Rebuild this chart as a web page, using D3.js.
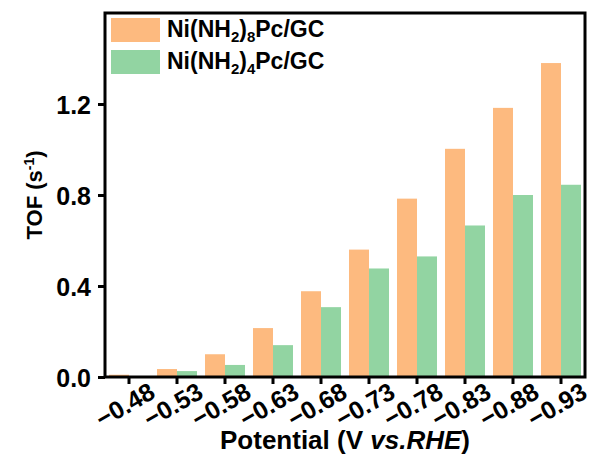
<!DOCTYPE html>
<html>
<head>
<meta charset="utf-8">
<script src="https://cdn.jsdelivr.net/npm/d3@7"></script>
<style>
  body { margin: 0; background: #fff; }
  text { font-family: "Liberation Sans", Arial, sans-serif; font-weight: bold; fill: #000; }
</style>
</head>
<body>
<svg id="chart" width="603" height="456"></svg>
<script>
const potentials = ["-0.48", "-0.53", "-0.58", "-0.63", "-0.68", "-0.73", "-0.78", "-0.83", "-0.88", "-0.93"];
const tofNH2_8 = [0.01, 0.035, 0.10, 0.215, 0.377, 0.56, 0.784, 1.003, 1.183, 1.38];
const tofNH2_4 = [0.0, 0.026, 0.053, 0.14, 0.307, 0.477, 0.53, 0.666, 0.80, 0.845];
const seriesNames = ["NH2_8", "NH2_4"];
const yTicks = [0, 0.4, 0.8, 1.2];

const colors = { NH2_8: "#fdba7f", NH2_4: "#92d4a2" };

const plotLeft = 105, plotRight = 585, plotTop = 13, plotBottom = 377;

const svg = d3.select("#chart");

const x0 = d3.scaleBand()
    .domain(potentials)
    .range([plotLeft, plotRight])
    .padding(0);

const x1 = d3.scaleBand()
    .domain(seriesNames)
    .range([4, x0.bandwidth() - 4])
    .padding(0);

const y = d3.scaleLinear()
    .domain([0, 1.6])
    .range([plotBottom, plotTop]);

const rows = potentials.map((p, i) => ({ p: p, NH2_8: tofNH2_8[i], NH2_4: tofNH2_4[i] }));

// bars
const groups = svg.append("g")
    .selectAll("g")
    .data(rows)
    .join("g")
    .attr("transform", d => `translate(${x0(d.p)},0)`);

groups.selectAll("rect")
    .data(d => seriesNames.map(k => ({ key: k, value: d[k] })))
    .join("rect")
    .attr("x", d => x1(d.key))
    .attr("width", x1.bandwidth())
    .attr("y", d => y(d.value))
    .attr("height", d => plotBottom - y(d.value))
    .attr("fill", d => colors[d.key]);

// frame
svg.append("rect")
    .attr("x", plotLeft)
    .attr("y", plotTop)
    .attr("width", plotRight - plotLeft)
    .attr("height", plotBottom - plotTop)
    .attr("fill", "none")
    .attr("stroke", "#000")
    .attr("stroke-width", 3);

// y axis
const yAxis = svg.append("g")
    .attr("transform", `translate(${plotLeft},0)`)
    .call(d3.axisLeft(y).tickValues(yTicks).tickFormat(d3.format(".1f")).tickSize(7).tickPadding(7));
yAxis.select(".domain").remove();
yAxis.selectAll(".tick line").attr("stroke-width", 3);
yAxis.selectAll(".tick text")
    .style("font-size", "25px")
    .attr("dy", "0.36em");

// x axis
const xAxis = svg.append("g")
    .attr("transform", `translate(0,${plotBottom})`)
    .call(d3.axisBottom(x0).tickSize(7).tickFormat(""));
xAxis.select(".domain").remove();
xAxis.selectAll(".tick line").attr("stroke-width", 3);

svg.append("g")
    .selectAll("text")
    .data(potentials)
    .join("text")
    .attr("transform", d => `translate(${x0(d) + x0.bandwidth() / 2 - 4},${plotBottom + 28}) rotate(-30)`)
    .attr("text-anchor", "middle")
    .attr("dy", "0.35em")
    .style("font-size", "25px")
    .text(d => d.replace("-", "\u2212"));

// axis titles
const xt = svg.append("text")
    .attr("x", (plotLeft + plotRight) / 2)
    .attr("y", 449)
    .attr("text-anchor", "middle")
    .style("font-size", "26px");
xt.append("tspan").text("Potential (V ");
xt.append("tspan").style("font-style", "italic").text("vs.RHE");
xt.append("tspan").text(")");

const yt = svg.append("text")
    .attr("transform", `translate(42,${(plotTop + plotBottom) / 2}) rotate(-90)`)
    .attr("text-anchor", "middle")
    .style("font-size", "22px");
yt.append("tspan").text("TOF (s");
yt.append("tspan").attr("dy", -8).style("font-size", "14px").text("-1");
yt.append("tspan").attr("dy", 8).text(")");

// legend
const legendItems = [
    { key: "NH2_8", sub: "8" },
    { key: "NH2_4", sub: "4" }
];
const legend = svg.append("g")
    .selectAll("g")
    .data(legendItems)
    .join("g")
    .attr("transform", (d, i) => `translate(111,${18 + i * 32})`);

legend.append("rect")
    .attr("width", 49)
    .attr("height", 24)
    .attr("fill", d => colors[d.key]);

const lt = legend.append("text")
    .attr("x", 56)
    .attr("y", 19)
    .style("font-size", "23px");
lt.append("tspan").text("Ni(NH");
lt.append("tspan").attr("dy", 5).style("font-size", "15px").text("2");
lt.append("tspan").attr("dy", -5).text(")");
lt.append("tspan").attr("dy", 5).style("font-size", "15px").text(d => d.sub);
lt.append("tspan").attr("dy", -5).text("Pc/GC");
</script>
</body>
</html>
